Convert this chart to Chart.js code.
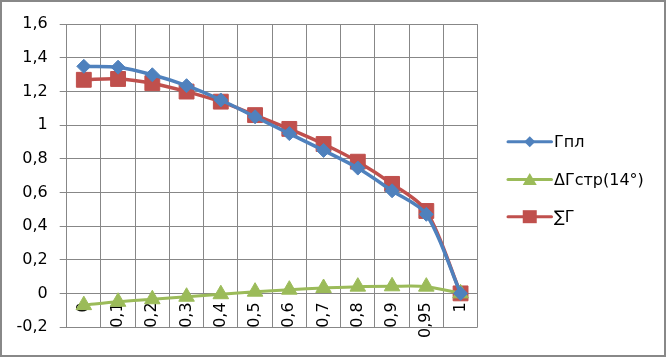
<!DOCTYPE html>
<html lang="ru">
<head>
<meta charset="UTF-8">
<title>Г</title>
<script src="https://cdn.jsdelivr.net/npm/chart.js"></script>
<style>
  body { margin: 0; background: #fff; }
  #wrap { position: relative; width: 662px; height: 353px; border: 2px solid #888; background: #fff; }
</style>
</head>
<body>
<div id="wrap"><canvas id="myChart"></canvas></div>
<script>
// categories (x tick labels)
const categorias = ['0', '0,1', '0,2', '0,3', '0,4', '0,5', '0,6', '0,7', '0,8', '0,9', '0,95', '1'];
// series
const gPl = [1.35, 1.345, 1.30, 1.235, 1.15, 1.05, 0.95, 0.85, 0.745, 0.61, 0.47, 0];
const dGstr = [-0.07, -0.05, -0.035, -0.02, -0.005, 0.01, 0.022, 0.032, 0.04, 0.042, 0.04, 0];
const sumG = [1.27, 1.275, 1.25, 1.20, 1.14, 1.06, 0.978, 0.888, 0.783, 0.651, 0.49, 0];
const nomes = ['Гпл', 'ΔГстр(14°)', '∑Г'];

const FONTE = "'DejaVu Sans', sans-serif";
const AZUL = '#4F81BD', VERDE = '#9BBB59', VERMELHO = '#C0504D';
const GRADE = '#878787';

function fmt(v) {
    let r = Math.round(v * 10) / 10;
    return String(r).replace('.', ',');
}

// legenda desenhada à direita (linha + marcador)
const legendaPlugin = {
    id: 'legenda',
    afterDraw(chart) {
        const ctx = chart.ctx;
        const ys = [139.7, 177.5, 214.7];
        const x1 = 506, x2 = 549.5, xm = (x1 + x2) / 2;
        chart.data.datasets.forEach(function (ds, i) {
            const y = ys[i];
            ctx.save();
            ctx.strokeStyle = ds.borderColor;
            ctx.lineWidth = 3;
            ctx.lineCap = 'round';
            ctx.beginPath();
            ctx.moveTo(x1, y);
            ctx.lineTo(x2, y);
            ctx.stroke();
            ctx.fillStyle = ds.backgroundColor;
            ctx.beginPath();
            if (i === 0) {
                ctx.moveTo(xm, y - 5.5); ctx.lineTo(xm + 5.5, y); ctx.lineTo(xm, y + 5.5); ctx.lineTo(xm - 5.5, y);
            } else if (i === 1) {
                ctx.moveTo(xm, y - 6.5); ctx.lineTo(xm + 7, y + 5.5); ctx.lineTo(xm - 7, y + 5.5);
            } else {
                ctx.rect(xm - 7, y - 6.5, 14, 13);
            }
            ctx.closePath();
            ctx.fill();
            ctx.fillStyle = '#000';
            ctx.font = '16px ' + FONTE;
            ctx.textBaseline = 'middle';
            ctx.textAlign = 'left';
            ctx.fillText(ds.label, 552, y + 1);
            ctx.restore();
        });
    }
};

const dados = {
    labels: categorias,
    datasets: [
        {
            label: nomes[0], data: gPl,
            borderColor: AZUL, backgroundColor: AZUL,
            borderWidth: 3.5, pointStyle: 'rectRot', pointRadius: 7,
            pointBorderWidth: 1, tension: 0.3
        },
        {
            label: nomes[1], data: dGstr,
            borderColor: VERDE, backgroundColor: VERDE,
            borderWidth: 3, pointStyle: 'triangle', pointRadius: 9,
            pointBorderWidth: 1, tension: 0.3
        },
        {
            label: nomes[2], data: sumG,
            borderColor: VERMELHO, backgroundColor: VERMELHO,
            borderWidth: 3.5, pointStyle: 'rect', pointRadius: 10.5,
            pointBorderWidth: 1, tension: 0.3
        }
    ]
};

const config = {
    type: 'line',
    data: dados,
    plugins: [legendaPlugin],
    options: {
        responsive: true,
        maintainAspectRatio: false,
        animation: false,
        layout: { padding: { left: 0, right: 186.3, top: 22.3, bottom: 28 } },
        plugins: { legend: { display: false }, tooltip: { enabled: false } },
        scales: {
            x: {
                type: 'category',
                offset: true,
                position: { y: 0 },
                grid: { offset: true, color: GRADE, lineWidth: 1, drawTicks: false },
                border: { display: true, color: GRADE, width: 1 },
                ticks: {
                    minRotation: 90, maxRotation: 90, autoSkip: false, padding: 9,
                    color: '#000', font: { family: FONTE, size: 16 }
                }
            },
            y: {
                min: -0.2, max: 1.6,
                grid: { color: GRADE, lineWidth: 1, tickLength: 7 },
                border: { display: true, color: GRADE, width: 1 },
                ticks: {
                    stepSize: 0.2, padding: 12, color: '#000',
                    font: { family: FONTE, size: 16 },
                    callback: function (v) { return fmt(v); }
                },
                afterFit: function (scale) { scale.width = 64.7; }
            }
        }
    }
};

let myChart = new Chart(document.getElementById('myChart'), config);
</script>
</body>
</html>
